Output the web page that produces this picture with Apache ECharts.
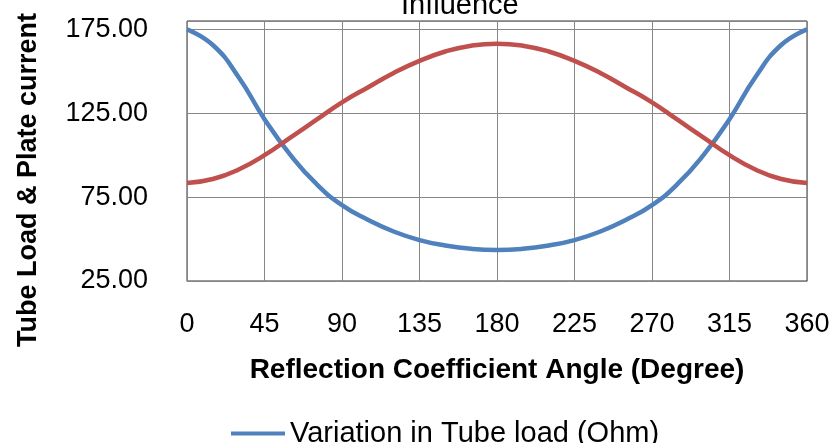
<!DOCTYPE html>
<html>
<head>
<meta charset="utf-8">
<script src="https://cdn.jsdelivr.net/npm/echarts@6/dist/echarts.min.js"></script>
<style>
  html, body { margin: 0; padding: 0; background: #fff; }
  #main { width: 833px; height: 443px; }
</style>
</head>
<body>
<div id="main"></div>
<script>
// angle in degrees
var angles = [0, 15, 30, 45, 60, 75, 90, 105, 120, 135, 150, 165, 180,
              195, 210, 225, 240, 255, 270, 285, 300, 315, 330, 345, 360];
// Variation in Tube load (Ohm)
var tubeLoad = [175, 165.7, 146.5, 121.5, 100.2, 83, 70.2, 61.5, 54.5, 49.4, 46.2, 44.2, 43.5,
                44.2, 46.2, 49.4, 54.5, 61.5, 70.2, 83, 100.2, 121.5, 146.5, 165.7, 175];
// plate current
var plateCurrent = [83.4, 85.8, 91.5, 100, 110.5, 121, 131.5, 140.4, 149, 156.2, 161.8, 165.3, 166.5,
                    165.3, 161.8, 156.2, 149, 140.4, 131.5, 121, 110.5, 100, 91.5, 85.8, 83.4];
var seriesNames = ['Variation in Tube load (Ohm)', 'Variation in Plate current'];

function pairs(ys) {
    return angles.map(function (a, i) { return [a, ys[i]]; });
}

var chart = echarts.init(document.getElementById('main'));
var font = 'Liberation Sans';
chart.setOption({
    animation: false,
    color: ['#4F81BD', '#C0504D'],
    title: {
        text: 'Influence',
        left: 396,
        top: -14,
        textStyle: { fontFamily: font, fontSize: 29, fontWeight: 'normal', color: '#000' }
    },
    grid: {
        left: 187, right: 26, top: 21, bottom: 162,
        show: true, borderColor: '#333', borderWidth: 1
    },
    legend: {
        orient: 'vertical',
        left: 226, top: 414, height: 200,
        icon: 'rect',
        itemWidth: 54, itemHeight: 4, itemGap: 24,
        textStyle: { fontFamily: font, fontSize: 29, color: '#000' },
        data: seriesNames
    },
    xAxis: {
        type: 'value', min: 0, max: 360, interval: 45,
        name: 'Reflection Coefficient Angle (Degree)',
        nameLocation: 'middle', nameGap: 75,
        nameTextStyle: { fontFamily: font, fontSize: 28, fontWeight: 'bold', color: '#000' },
        axisLine: { show: true, lineStyle: { color: '#878787' } },
        axisTick: { show: false },
        axisLabel: { margin: 30, fontFamily: font, fontSize: 27, color: '#000' },
        splitLine: { show: true, lineStyle: { color: '#878787', width: 1 } }
    },
    yAxis: {
        type: 'value', min: 25, max: 180, interval: 50,
        name: 'Tube Load & Plate current',
        nameLocation: 'middle', nameGap: 145,
        nameTextStyle: { fontFamily: font, fontSize: 27, fontWeight: 'bold', color: '#000', padding: [0, 58, 0, 0] },
        axisLine: { show: true, lineStyle: { color: '#878787' } },
        axisTick: { show: false },
        axisLabel: {
            margin: 39, fontFamily: font, fontSize: 27, color: '#000',
            formatter: function (v) { return v === 180 ? '' : v.toFixed(2); }
        },
        splitLine: { show: true, lineStyle: { color: '#878787', width: 1 } }
    },
    series: [
        {
            name: seriesNames[0], type: 'line', smooth: true, showSymbol: false,
            lineStyle: { width: 4.5 }, data: pairs(tubeLoad)
        },
        {
            name: seriesNames[1], type: 'line', smooth: true, showSymbol: false,
            lineStyle: { width: 4.5 }, data: pairs(plateCurrent)
        }
    ]
});
</script>
</body>
</html>
